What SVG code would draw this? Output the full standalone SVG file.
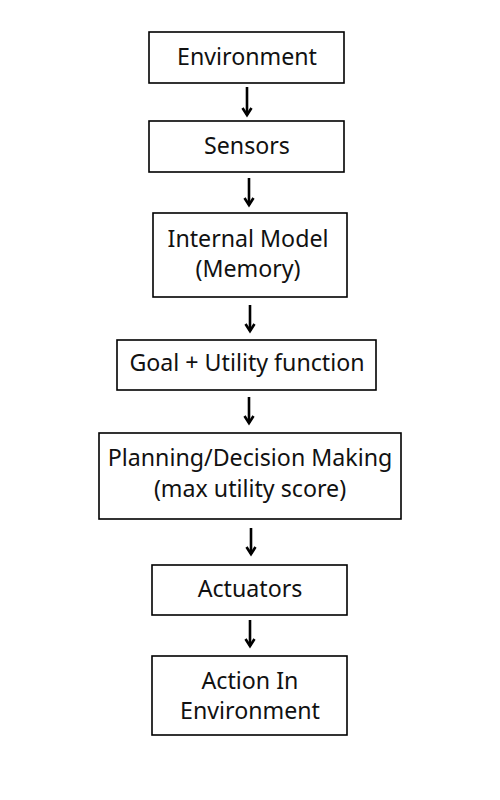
<svg xmlns="http://www.w3.org/2000/svg" width="500" height="800" viewBox="0 0 500 800">
<defs>
<style>
.box{fill:#fff;stroke:#000;stroke-width:1.6}
.t{font-family:"Noto Sans","Open Sans",sans-serif;font-size:23.2px;fill:#111;text-anchor:middle;dominant-baseline:central}
.arr{stroke:#000;stroke-width:2.6;fill:none}
.head{stroke:#000;stroke-width:2.6;fill:none;stroke-linejoin:miter}
</style>
</defs>
<rect width="500" height="800" fill="#fff"/>
<g id="connectors">
<path class="arr" d="M247 87V115"/><path class="head" d="M242.5 108L247 115L251.5 108"/>
<path class="arr" d="M249 178V205"/><path class="head" d="M244.5 198L249 205L253.5 198"/>
<path class="arr" d="M250 305V331"/><path class="head" d="M245.5 324L250 331L254.5 324"/>
<path class="arr" d="M249 397V423"/><path class="head" d="M244.5 416L249 423L253.5 416"/>
<path class="arr" d="M251 528V554"/><path class="head" d="M246.5 547L251 554L255.5 547"/>
<path class="arr" d="M250 620V646"/><path class="head" d="M245.5 639L250 646L254.5 639"/>
</g>
<g id="environment"><rect class="box" x="149" y="32" width="195" height="51"/><text class="t" x="247" y="56">Environment</text></g>
<g id="sensors"><rect class="box" x="149" y="121" width="195" height="51"/><text class="t" x="247" y="145">Sensors</text></g>
<g id="internal-model"><rect class="box" x="153" y="213" width="194" height="84"/><text class="t" x="248" y="238">Internal Model</text><text class="t" x="248" y="268">(Memory)</text></g>
<g id="goal"><rect class="box" x="117" y="340" width="259" height="50"/><text class="t" x="247" y="362">Goal + Utility function</text></g>
<g id="planning"><rect class="box" x="99" y="433" width="302" height="86"/><text class="t" x="250" y="457">Planning/Decision Making</text><text class="t" x="250" y="488">(max utility score)</text></g>
<g id="actuators"><rect class="box" x="152" y="565" width="195" height="50"/><text class="t" x="250" y="588">Actuators</text></g>
<g id="action"><rect class="box" x="152" y="656" width="195" height="79"/><text class="t" x="250" y="680">Action In</text><text class="t" x="250" y="710">Environment</text></g>
</svg>
